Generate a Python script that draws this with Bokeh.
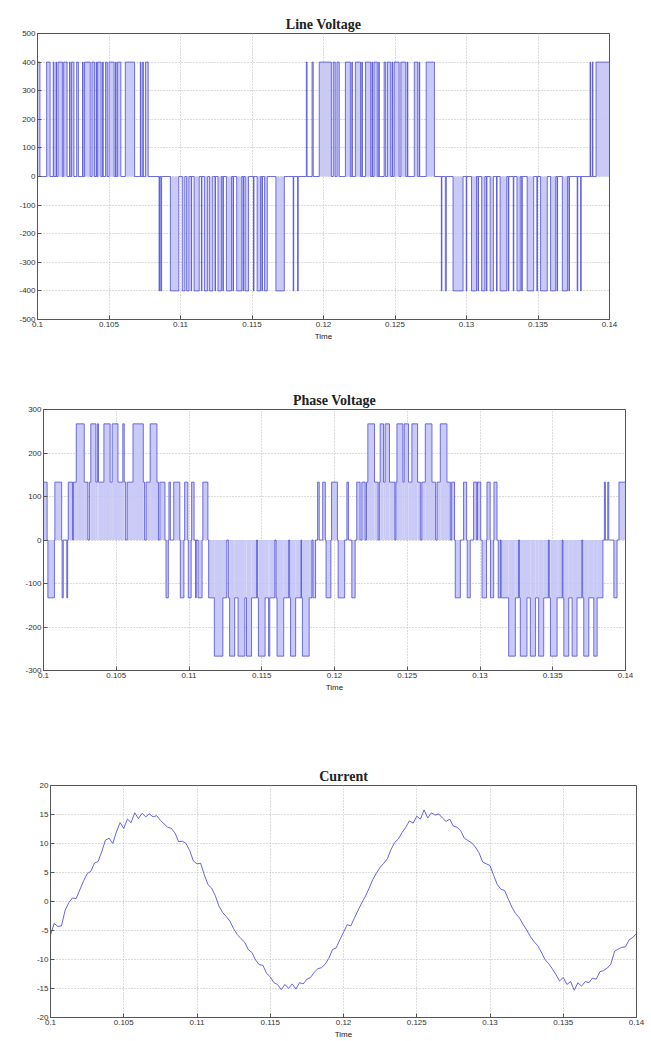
import numpy as np
from bokeh.plotting import figure
from bokeh.models import FixedTicker, Range1d
from bokeh.embed import file_html
from bokeh.resources import INLINE

# ---------------- data (time in ms after t = 0.1 s) ----------------
x_ticks = [0.1, 0.105, 0.11, 0.115, 0.12, 0.125, 0.13, 0.135, 0.14]
x_tick_labels = ["0.1", "0.105", "0.11", "0.115", "0.12", "0.125", "0.13", "0.135", "0.14"]
line_yticks = [-500, -400, -300, -200, -100, 0, 100, 200, 300, 400, 500]
phase_yticks = [-300, -200, -100, 0, 100, 200, 300]
current_yticks = [-20, -15, -10, -5, 0, 5, 10, 15, 20]

# line voltage pulses: (start_ms, end_ms, level)
line_segments = [
    (0.00, 0.17, 400), (0.64, 0.88, 400), (1.10, 1.15, 400), (1.29, 1.33, 400), (1.43, 1.74, 400),
    (1.83, 2.07, 400), (2.24, 2.28, 400), (2.38, 2.55, 400), (2.74, 2.86, 400), (3.15, 3.19, 400),
    (3.29, 3.69, 400), (3.81, 3.98, 400), (4.10, 4.14, 400), (4.21, 4.45, 400), (4.55, 4.60, 400),
    (4.76, 4.88, 400), (5.00, 5.36, 400), (5.46, 5.50, 400), (5.60, 5.83, 400), (6.14, 6.79, 400),
    (7.19, 7.24, 400), (7.36, 7.40, 400), (7.55, 7.74, 400),
    (8.50, 8.54, -400), (8.62, 8.68, -400), (9.29, 9.88, -400), (10.12, 10.31, -400), (10.43, 10.60, -400),
    (10.74, 10.78, -400), (10.95, 11.31, -400), (11.46, 11.50, -400), (11.67, 11.90, -400), (12.02, 12.26, -400),
    (12.41, 12.45, -400), (12.62, 12.86, -400), (12.96, 13.00, -400), (13.21, 13.57, -400), (13.67, 13.71, -400),
    (13.93, 14.29, -400), (14.38, 14.42, -400), (14.52, 14.76, -400), (15.10, 15.14, -400), (15.36, 15.60, -400),
    (15.69, 15.73, -400), (15.88, 16.07, -400), (16.67, 17.26, -400), (17.88, 17.92, -400), (18.19, 18.23, -400),
    (18.80, 18.85, 400), (19.20, 19.28, 400), (19.70, 20.55, 400), (20.68, 20.82, 400), (20.94, 21.10, 400),
    (21.53, 21.88, 400), (21.98, 22.02, 400), (22.23, 22.59, 400), (22.68, 22.72, 400), (22.94, 23.30, 400),
    (23.39, 23.43, 400), (23.53, 23.76, 400), (23.86, 23.90, 400), (24.24, 24.35, 400), (24.47, 24.70, 400),
    (24.80, 24.84, 400), (24.94, 25.29, 400), (25.41, 25.76, 400), (25.86, 25.90, 400), (26.35, 26.59, 400),
    (26.69, 26.73, 400), (27.18, 27.76, 400),
    (28.24, 28.28, -400), (28.52, 28.59, -400), (29.06, 29.76, -400), (29.98, 30.02, -400), (30.35, 30.70, -400),
    (30.80, 30.84, -400), (31.06, 31.29, -400), (31.39, 31.43, -400), (31.65, 31.88, -400), (32.10, 32.14, -400),
    (32.35, 32.82, -400), (32.92, 32.96, -400), (33.27, 33.31, -400), (33.53, 33.76, -400), (33.86, 33.90, -400),
    (34.24, 34.70, -400), (34.92, 34.96, -400), (35.18, 35.65, -400), (35.88, 36.24, -400), (36.33, 36.37, -400),
    (36.70, 37.06, -400), (37.16, 37.20, -400), (37.74, 37.78, -400), (37.98, 38.02, -400),
    (38.64, 38.68, 400), (38.80, 38.84, 400), (39.06, 40.00, 400),
]

# phase voltage levels: (start_ms, end_ms, level)
phase_segments = [
    (0.00, 0.25, 133), (0.30, 0.75, -133), (0.78, 1.25, 133), (1.28, 1.36, -133), (1.60, 1.66, -133), (1.70, 2.00, 133),
    (2.05, 2.25, 133), (2.25, 2.80, 267), (2.80, 3.05, 133), (3.15, 3.25, 133), (3.25, 3.60, 267), (3.60, 3.70, 133),
    (3.70, 3.78, 267), (3.78, 4.15, 133), (4.15, 4.58, 267), (4.58, 4.72, 133), (4.72, 5.12, 267), (5.12, 5.45, 133),
    (5.45, 5.55, 267), (5.55, 5.65, 133), (5.75, 6.15, 133), (6.15, 6.86, 267), (6.86, 6.95, 133), (7.05, 7.33, 133),
    (7.33, 7.80, 267), (7.80, 7.90, 133),
    (8.00, 8.35, 133), (8.42, 8.58, -133), (8.62, 8.72, 133), (8.95, 9.37, 133), (9.40, 9.65, -133), (9.70, 9.92, 133),
    (9.95, 10.15, -133), (10.18, 10.35, 133), (10.45, 10.50, -133), (10.62, 10.90, -133), (10.95, 11.30, 133),
    (11.35, 11.74, -133), (11.74, 12.33, -267), (12.33, 12.60, -133), (12.70, 12.79, -133), (12.79, 13.14, -267),
    (13.14, 13.37, -133), (13.37, 13.84, -267), (13.84, 13.95, -133), (13.95, 14.30, -267), (14.30, 14.65, -133),
    (14.70, 14.77, -133), (14.77, 15.23, -267), (15.23, 15.47, -133), (15.47, 15.55, -267), (15.55, 15.90, -133),
    (15.98, 16.05, -133), (16.05, 16.51, -267), (16.51, 16.85, -133), (16.92, 16.98, -133), (16.98, 17.33, -267),
    (17.33, 17.70, -133), (17.74, 17.79, -133), (17.79, 18.26, -267), (18.26, 18.45, -133),
    (18.52, 18.70, -133), (18.84, 18.95, 133), (19.19, 19.37, 133), (19.42, 19.75, -133), (19.80, 20.20, 133),
    (20.25, 20.70, -133), (20.85, 20.96, 133), (21.19, 21.42, -133), (21.53, 21.76, 133), (21.88, 22.11, 133),
    (22.20, 22.29, 133), (22.29, 22.75, 267), (22.75, 23.00, 133), (23.08, 23.14, 133), (23.14, 23.37, 267),
    (23.37, 23.48, 133), (23.48, 23.78, 267), (23.78, 24.15, 133), (24.22, 24.29, 133), (24.29, 24.70, 267),
    (24.70, 24.79, 133), (24.79, 25.09, 267), (25.09, 25.32, 133), (25.32, 25.71, 267), (25.71, 25.90, 133),
    (26.00, 26.24, 133), (26.24, 26.70, 267), (26.70, 26.95, 133), (27.05, 27.27, 133), (27.27, 27.73, 267),
    (27.73, 27.96, 133),
    (28.05, 28.25, 133), (28.30, 28.65, -133), (28.87, 29.08, 133), (29.12, 29.33, -133), (29.56, 29.78, 133),
    (29.82, 30.05, 133), (30.14, 30.45, -133), (30.48, 30.70, 133), (30.72, 30.94, -133), (30.96, 31.17, 133),
    (31.25, 31.40, -133),
    (31.45, 31.97, -133), (31.97, 32.43, -267), (32.43, 32.65, -133), (32.72, 32.77, -133), (32.77, 33.23, -267),
    (33.23, 33.46, -133), (33.46, 33.81, -267), (33.81, 34.03, -133), (34.03, 34.38, -267), (34.38, 34.70, -133),
    (34.76, 34.84, -133), (34.84, 35.30, -267), (35.30, 35.65, -133), (35.70, 35.76, -133), (35.76, 36.10, -267),
    (36.10, 36.33, -133), (36.33, 36.67, -267), (36.67, 37.00, -133), (37.06, 37.13, -133), (37.13, 37.48, -267),
    (37.48, 37.82, -133), (37.82, 38.05, -267), (38.05, 38.45, -133),
    (38.55, 38.62, 133), (38.78, 38.85, 133), (39.20, 39.42, -133), (39.55, 40.00, 133),
]

# current samples every 0.25 ms from 0 to 40 ms
current_values = [
    -5.8, -3.8, -4.3, -4.2, -1.5, -0.2, 0.6, 0.5, 2.0, 3.5, 4.8, 5.2, 6.6, 6.9, 8.6, 10.6,
    10.9, 10.0, 12.0, 13.6, 12.6, 14.2, 13.6, 15.3, 14.3, 15.2, 14.6, 15.1, 14.6, 14.8, 14.0, 13.4,
    12.8, 12.6, 11.8, 10.3, 10.4, 10.0, 8.8, 7.0, 6.5, 6.6, 4.6, 2.9, 2.3, 1.0, -0.8, -1.9,
    -2.6, -3.4, -4.7, -5.7, -6.4, -7.0, -8.3, -8.8, -10.1, -10.9, -11.0, -12.4, -13.0, -14.0, -14.3, -15.2,
    -14.3, -15.0, -14.2, -15.1, -14.0, -14.2, -13.4, -13.1, -12.2, -11.6, -11.4, -10.8, -9.8, -8.3, -8.0, -6.6,
    -5.3, -4.0, -4.2, -2.8, -1.5, -0.2, 0.9, 2.3, 3.8, 4.9, 5.9, 6.6, 7.4, 9.0, 10.2, 10.8,
    11.9, 12.8, 13.9, 13.5, 14.7, 14.2, 15.8, 14.4, 15.3, 14.9, 15.1, 14.4, 13.8, 14.2, 13.0, 12.8,
    12.2, 10.9, 10.5, 10.1, 9.4, 8.4, 6.8, 6.5, 6.2, 4.5, 2.9, 2.1, 1.9, 0.4, -1.0, -2.1,
    -2.8, -3.9, -4.9, -6.0, -6.9, -7.6, -8.7, -10.0, -10.7, -11.6, -12.6, -13.7, -13.1, -14.3, -13.8, -15.3,
    -14.0, -14.6, -13.8, -14.0, -13.2, -13.4, -12.1, -11.9, -11.5, -10.8, -8.6, -8.2, -7.9, -7.8, -6.6, -6.2,
    -5.5,
]

T0 = 0.1
LINE_COLOR = "#3b3bd6"
FILL_COLOR = "#c4c4f5"


def step_xy(segs):
    xs, ys = [T0], [0.0]
    n = len(segs)
    for i, (s, e, v) in enumerate(segs):
        s_t, e_t = T0 + s / 1000.0, T0 + e / 1000.0
        contiguous_prev = i > 0 and abs(segs[i - 1][1] - s) < 1e-9
        if contiguous_prev:
            xs.append(s_t); ys.append(v)
        else:
            xs += [s_t, s_t]; ys += [0.0, v]
        xs.append(e_t); ys.append(v)
        contiguous_next = i < n - 1 and abs(segs[i + 1][0] - e) < 1e-9
        if not contiguous_next:
            xs.append(e_t); ys.append(0.0)
    xs.append(0.14); ys.append(0.0)
    return xs, ys


def style(p, yticks):
    p.x_range = Range1d(0.1, 0.14)
    p.y_range = Range1d(yticks[0], yticks[-1])
    p.xaxis.ticker = FixedTicker(ticks=x_ticks)
    p.xaxis.major_label_overrides = {t: l for t, l in zip(x_ticks, x_tick_labels)}
    p.yaxis.ticker = FixedTicker(ticks=yticks)
    p.yaxis.major_label_overrides = {t: str(t) for t in yticks}
    for ax in (p.xaxis[0], p.yaxis[0]):
        ax.major_tick_in = 4
        ax.major_tick_out = 0
        ax.minor_tick_line_color = None
        ax.axis_line_color = "#555555"
        ax.major_tick_line_color = "#555555"
        ax.major_label_text_font = "Liberation Sans"
        ax.major_label_text_font_size = "8px"
        ax.major_label_text_color = "#333333"
        ax.major_label_standoff = 2
    p.xaxis.axis_label = "Time"
    p.xaxis.axis_label_text_font = "Liberation Sans"
    p.xaxis.axis_label_text_font_size = "8px"
    p.xaxis.axis_label_text_font_style = "normal"
    p.xaxis.axis_label_text_color = "#222222"
    p.xaxis.axis_label_standoff = 2
    p.grid.grid_line_color = "#b8b8b8"
    p.grid.grid_line_dash = "1 2"
    p.outline_line_color = "#555555"
    p.outline_line_alpha = 1
    p.title.text_font = "Liberation Serif"
    p.title.text_font_size = "14px"
    p.title.text_font_style = "bold"
    p.title.text_color = "#222222"
    p.title.align = "center"
    p.title.standoff = 4
    p.background_fill_color = "white"
    p.border_fill_color = "white"


def pulses(p, segs):
    left = [T0 + s / 1000.0 for s, e, v in segs]
    right = [T0 + e / 1000.0 for s, e, v in segs]
    bottom = [min(0, v) for s, e, v in segs]
    top = [max(0, v) for s, e, v in segs]
    p.quad(left=left, right=right, bottom=bottom, top=top, fill_color=FILL_COLOR,
           fill_alpha=0.9, line_color=None)
    xs, ys = step_xy(segs)
    p.line(xs, ys, line_color=LINE_COLOR, line_width=1, line_alpha=0.7)


W = 645
p1 = figure(width=W, height=360, title="Line Voltage", output_backend="svg", toolbar_location=None,
            min_border_left=37, min_border_right=W - 609, min_border_top=33, min_border_bottom=41)
style(p1, line_yticks)
pulses(p1, line_segments)

p2 = figure(width=W, height=400, title="Phase Voltage", output_backend="svg", toolbar_location=None,
            min_border_left=43, min_border_right=W - 625, min_border_top=49, min_border_bottom=90)
style(p2, phase_yticks)
pulses(p2, phase_segments)

cur_t = T0 + np.arange(len(current_values)) * 0.25 / 1000.0
p3 = figure(width=W, height=281, title="Current", output_backend="svg", toolbar_location=None,
            min_border_left=50, min_border_right=W - 636, min_border_top=25, min_border_bottom=22)
style(p3, current_yticks)
p3.line(cur_t, current_values, line_color="#4a4ae0", line_width=1, line_alpha=0.85)

open("out.html", "w").write(file_html([p1, p2, p3], INLINE))
